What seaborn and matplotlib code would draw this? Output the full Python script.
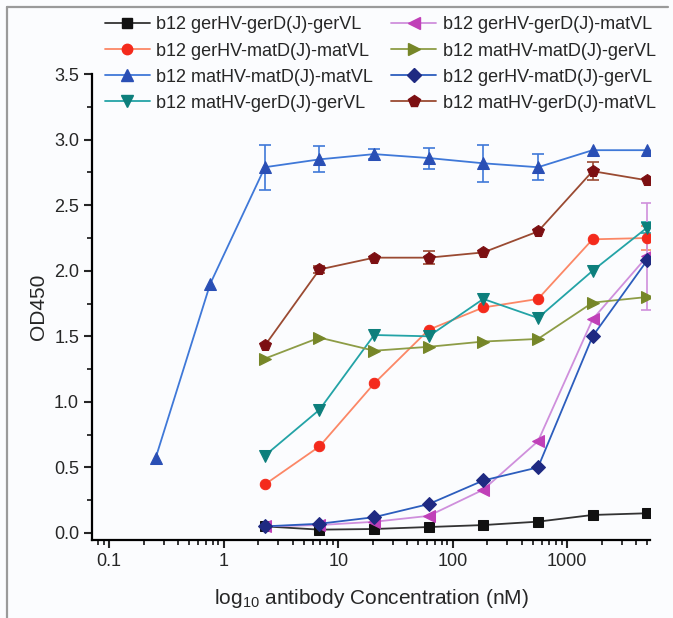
import numpy as np
import pandas as pd
import matplotlib
matplotlib.use("Agg")
import matplotlib.pyplot as plt
import matplotlib.ticker as mticker
from matplotlib.lines import Line2D
import seaborn as sns

sns.set_style("ticks")
plt.rcParams['font.family'] = ['Liberation Sans', 'DejaVu Sans']
plt.rcParams['mathtext.default'] = 'regular'

# -----------------------------
# data
# -----------------------------
conc = [0.254, 0.762, 2.29, 6.86, 20.6, 61.7, 185, 556, 1667, 5000]
conc8 = conc[2:]

labels = [
    "b12 gerHV-gerD(J)-gerVL",
    "b12 gerHV-matD(J)-matVL",
    "b12 matHV-matD(J)-matVL",
    "b12 matHV-gerD(J)-gerVL",
    "b12 gerHV-gerD(J)-matVL",
    "b12 matHV-matD(J)-gerVL",
    "b12 gerHV-matD(J)-gerVL",
    "b12 matHV-gerD(J)-matVL",
]

ger_ger_ger = [0.05, 0.025, 0.03, 0.045, 0.06, 0.086, 0.137, 0.15]
ger_mat_mat = [0.37, 0.66, 1.14, 1.55, 1.72, 1.785, 2.24, 2.25]
mat_mat_mat = [0.57, 1.90, 2.79, 2.85, 2.89, 2.86, 2.82, 2.79, 2.92, 2.92]
mat_ger_ger = [0.59, 0.94, 1.51, 1.50, 1.785, 1.64, 2.00, 2.33]
ger_ger_mat = [0.05, 0.06, 0.085, 0.13, 0.33, 0.70, 1.63, 2.11]
mat_mat_ger = [1.33, 1.49, 1.39, 1.42, 1.46, 1.48, 1.757, 1.80]
ger_mat_ger = [0.05, 0.07, 0.12, 0.22, 0.40, 0.50, 1.50, 2.08]
mat_ger_mat = [1.43, 2.01, 2.10, 2.10, 2.14, 2.30, 2.76, 2.69]

# error bars (nan = none drawn)
nan = np.nan
err_mat_mat_mat = [nan, nan, 0.17, 0.10, 0.04, 0.08, 0.14, 0.10, nan, nan]
err_ger_mat_mat = [nan, nan, nan, nan, nan, nan, nan, 0.09]
err_mat_ger_ger = [nan, nan, nan, nan, nan, nan, nan, 0.04]
err_ger_ger_mat = [nan, nan, nan, nan, nan, nan, nan, 0.41]
err_mat_ger_mat = [nan, 0.03, nan, 0.05, nan, nan, 0.07, nan]

series = [
    (conc8, ger_ger_ger, None, "s", "#111111", "#333333"),
    (conc8, ger_mat_mat, err_ger_mat_mat, "o", "#f42a1c", "#fb8766"),
    (conc, mat_mat_mat, err_mat_mat_mat, "^", "#2a4fb5", "#3f78d8"),
    (conc8, mat_ger_ger, err_mat_ger_ger, "v", "#0d7f7c", "#23a3a6"),
    (conc8, ger_ger_mat, err_ger_ger_mat, "<", "#c040b8", "#cf8fdc"),
    (conc8, mat_mat_ger, None, ">", "#768628", "#8d9c46"),
    (conc8, ger_mat_ger, None, "D", "#1f2a82", "#2c5dbd"),
    (conc8, mat_ger_mat, err_mat_ger_mat, "p", "#7c0f12", "#9a4a32"),
]

# -----------------------------
# plot
# -----------------------------
fig = plt.figure(figsize=(6.73, 6.18), dpi=100)
fig.patch.set_facecolor("#fbfcfe")
ax = fig.add_axes([0.137, 0.126, 0.829, 0.754])
ax.set_facecolor("#fbfcfe")

handles = []
for (xs, ys, err, mk, mcol, lcol), lab in zip(series, labels):
    df = pd.DataFrame({"conc": xs, "od": ys})
    ms = 8.5 if mk in ("<", ">", "^", "v", "p") else 7.5
    if mk == "D":
        ms = 7
    if err is not None:
        e = np.array(err, dtype=float)
        m = ~np.isnan(e)
        ax.errorbar(np.array(xs)[m], np.array(ys)[m], yerr=e[m], fmt="none",
                    ecolor=lcol, elinewidth=1.2, capsize=4, capthick=1.2, zorder=2)
    sns.lineplot(data=df, x="conc", y="od", ax=ax, color=lcol, linewidth=1.3,
                 marker=mk, markersize=ms, markerfacecolor=mcol,
                 markeredgecolor=mcol, legend=False, zorder=3)
    handles.append(Line2D([0], [0], color=lcol, linewidth=1.3, marker=mk,
                          markersize=ms, markerfacecolor=mcol,
                          markeredgecolor=mcol, label=lab))

ax.set_xscale("log")
ax.set_xlim(0.071, 5300)
ax.set_ylim(-0.055, 3.5)
ax.yaxis.set_major_locator(mticker.MultipleLocator(0.5))
ax.yaxis.set_minor_locator(mticker.MultipleLocator(0.25))
ax.yaxis.set_major_formatter(mticker.FormatStrFormatter("%.1f"))
ax.xaxis.set_major_locator(mticker.LogLocator(base=10))
ax.xaxis.set_minor_locator(mticker.LogLocator(base=10, subs=np.arange(2, 10)))
ax.xaxis.set_minor_formatter(mticker.NullFormatter())
ax.xaxis.set_major_formatter(mticker.FuncFormatter(lambda v, p: f"{v:g}"))

sns.despine(ax=ax)
for s in ("left", "bottom"):
    ax.spines[s].set_linewidth(1.6)
    ax.spines[s].set_color("black")
ax.tick_params(which="major", length=6, width=1.5, labelsize=13, direction="out")
ax.tick_params(which="minor", length=3.5, width=1.3, direction="out")

ax.set_xlabel("log$_{10}$ antibody Concentration (nM)", fontsize=15, labelpad=12)
ax.set_ylabel("OD450", fontsize=15, labelpad=4)

fig.legend(handles=handles, ncol=2, frameon=False, loc="upper left",
           bbox_to_anchor=(0.145, 0.985), fontsize=13, handlelength=2.5,
           handletextpad=0.35, columnspacing=1.0, labelspacing=0.5,
           borderaxespad=0)

# thin grey frame round the picture
fig.add_artist(Line2D([0.011, 0.011], [0.0, 0.989], color="#9a9a9a", linewidth=1.6,
                      transform=fig.transFigure))
fig.add_artist(Line2D([0.011, 0.992], [0.989, 0.989], color="#9a9a9a", linewidth=1.6,
                      transform=fig.transFigure))

fig.savefig("out.png", dpi=100, facecolor=fig.get_facecolor())
